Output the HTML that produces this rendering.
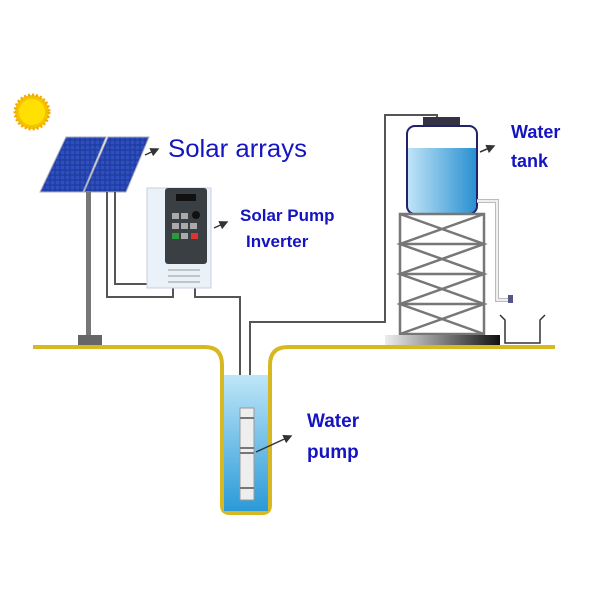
<!DOCTYPE html>
<html><head><style>body{margin:0;background:#fff}svg{display:block}</style></head><body>
<svg width="600" height="600" viewBox="0 0 600 600" xmlns="http://www.w3.org/2000/svg">
<defs>
<linearGradient id="wg" x1="0" y1="0" x2="0" y2="1"><stop offset="0" stop-color="#bfe6f8"/><stop offset="1" stop-color="#2a9ad8"/></linearGradient>
<linearGradient id="tg" x1="0" y1="0" x2="1" y2="0"><stop offset="0" stop-color="#bfe4f8"/><stop offset="1" stop-color="#2a90d0"/></linearGradient>
<linearGradient id="bg" x1="0" y1="0" x2="1" y2="0"><stop offset="0" stop-color="#eee"/><stop offset="1" stop-color="#111"/></linearGradient>
<pattern id="cells" width="5" height="5" patternUnits="userSpaceOnUse"><rect width="5" height="5" fill="#1e3a9a"/><rect x="0.6" y="0.6" width="3.8" height="3.8" fill="#2d4fc0"/></pattern>
<marker id="ar" markerWidth="6" markerHeight="6" refX="5" refY="3" orient="auto"><path d="M0,0 L6,3 L0,6z" fill="#333"/></marker>
</defs>
<circle cx="32" cy="112" r="17" fill="#f5c400" stroke="#f5a800" stroke-width="3" stroke-dasharray="2 2"/>
<circle cx="32" cy="112" r="13" fill="#ffe000"/>
<polygon points="66,137 106,137 83,192 40,192" fill="url(#cells)" stroke="#aab" stroke-width="1"/>
<polygon points="108,137 149,137 126,192 84,192" fill="url(#cells)" stroke="#aab" stroke-width="1"/>
<rect x="86" y="192" width="5" height="145" fill="#777"/>
<rect x="78" y="335" width="24" height="11" fill="#666"/>
<g fill="none" stroke="#555" stroke-width="2">
<polyline points="107,192 107,297 173,297 173,287"/>
<polyline points="115,192 115,284 148,284"/>
<polyline points="195,287 195,297 240,297 240,410"/>
<polyline points="250,410 250,322 385,322 385,115 437,115 437,120"/>
</g>
<rect x="147" y="188" width="64" height="100" fill="#e8f2f8" stroke="#ccd" />
<rect x="165" y="188" width="42" height="76" rx="3" fill="#3a3f44"/>
<rect x="176" y="194" width="20" height="7" fill="#111"/>
<g fill="#aaa"><rect x="172" y="213" width="7" height="6"/><rect x="181" y="213" width="7" height="6"/><rect x="172" y="223" width="7" height="6"/><rect x="181" y="223" width="7" height="6"/><rect x="190" y="223" width="7" height="6"/><rect x="181" y="233" width="7" height="6"/></g>
<circle cx="196" cy="215" r="4" fill="#111"/>
<rect x="172" y="233" width="7" height="6" fill="#2a9a3a"/><rect x="191" y="233" width="7" height="6" fill="#d33"/>
<g stroke="#999" stroke-width="1"><line x1="168" y1="270" x2="200" y2="270"/><line x1="168" y1="276" x2="200" y2="276"/><line x1="168" y1="282" x2="200" y2="282"/></g>
<path d="M33,347 L205,347 Q222,347 222,365 L222,505 Q222,513 230,513 L262,513 Q270,513 270,505 L270,365 Q270,347 288,347 L555,347" fill="none" stroke="#d8b820" stroke-width="4"/>
<rect x="224" y="375" width="44" height="136" fill="url(#wg)"/>
<rect x="240" y="408" width="14" height="92" fill="#eee" stroke="#999"/>
<g stroke="#777" stroke-width="2"><line x1="240" y1="418" x2="254" y2="418"/><line x1="240" y1="448" x2="254" y2="448"/><line x1="240" y1="453" x2="254" y2="453"/><line x1="240" y1="488" x2="254" y2="488"/></g>
<line x1="256" y1="452" x2="291" y2="436" stroke="#333" stroke-width="1.5" marker-end="url(#ar)"/>
<rect x="423" y="117" width="37" height="10" fill="#334" />
<rect x="407" y="126" width="70" height="88" rx="8" fill="#fff"/>
<path d="M408,148 L476,148 L476,206 Q476,213 469,213 L415,213 Q408,213 408,206 Z" fill="url(#tg)"/>
<rect x="407" y="126" width="70" height="88" rx="8" fill="none" stroke="#222266" stroke-width="2"/>
<g fill="none" stroke="#777" stroke-width="2.5">
<rect x="400" y="214" width="84" height="120"/>
<polyline points="400,214 484,244 400,274 484,304 400,334"/>
<polyline points="484,214 400,244 484,274 400,304 484,334"/>
<line x1="400" y1="244" x2="484" y2="244"/><line x1="400" y1="274" x2="484" y2="274"/><line x1="400" y1="304" x2="484" y2="304"/>
</g>
<rect x="385" y="335" width="115" height="10" fill="url(#bg)"/>
<polyline points="477,201 497,201 497,300 510,300" fill="none" stroke="#bbb" stroke-width="4"/>
<polyline points="477,201 497,201 497,300 510,300" fill="none" stroke="#fff" stroke-width="1.5"/>
<rect x="508" y="295" width="5" height="8" fill="#558"/>
<polyline points="500,315 505,320 505,343 540,343 540,320 545,315" fill="none" stroke="#333" stroke-width="1.5"/>
<line x1="145" y1="155" x2="158" y2="149" stroke="#333" stroke-width="1.5" marker-end="url(#ar)"/>
<line x1="214" y1="228" x2="227" y2="222" stroke="#333" stroke-width="1.5" marker-end="url(#ar)"/>
<line x1="480" y1="152" x2="494" y2="146" stroke="#333" stroke-width="1.5" marker-end="url(#ar)"/>
<g font-family="Liberation Sans, sans-serif" fill="#1414c0">
<text x="168" y="157" font-size="25" textLength="139" lengthAdjust="spacingAndGlyphs">Solar arrays</text>
<text x="240" y="221" font-size="17" font-weight="bold">Solar Pump</text>
<text x="246" y="247" font-size="17" font-weight="bold">Inverter</text>
<text x="511" y="138" font-size="18" font-weight="bold">Water</text>
<text x="511" y="167" font-size="18" font-weight="bold">tank</text>
<text x="307" y="427" font-size="19" font-weight="bold">Water</text>
<text x="307" y="458" font-size="19" font-weight="bold">pump</text>
</g>
</svg>
</body></html>
